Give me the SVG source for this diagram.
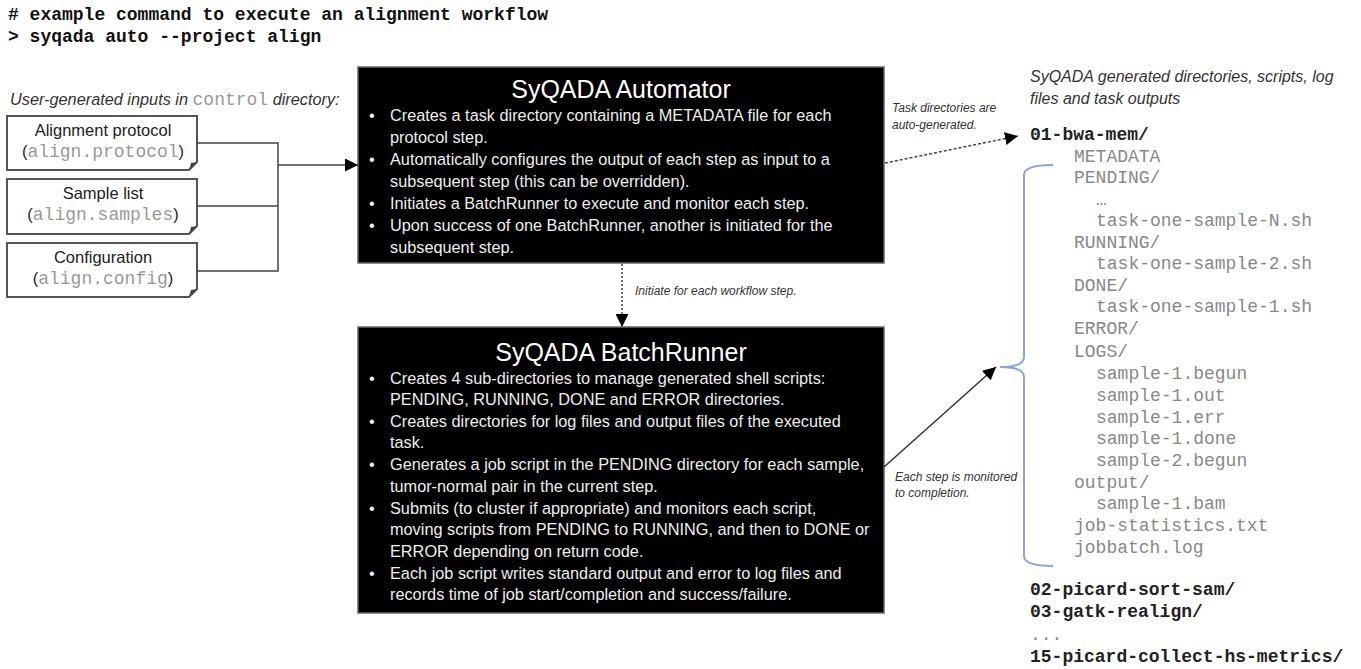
<svg xmlns="http://www.w3.org/2000/svg" width="1361" height="669" viewBox="0 0 1361 669">
<defs>
<marker id="ahL" viewBox="0 0 10 10" refX="10" refY="5" markerWidth="13" markerHeight="13" markerUnits="userSpaceOnUse" orient="auto"><path d="M0,0 L10,5 L0,10 Z" fill="#000"/></marker>
</defs>
<style>
.hdr{font-family:"Liberation Mono",monospace;font-weight:bold;font-size:18px;fill:#111}
.it{font-family:"Liberation Sans",Arial,sans-serif;font-style:italic;fill:#333}
.sm{font-size:12px}
.box{fill:#fff;stroke:#555;stroke-width:2}
.bt{font-family:"Liberation Sans",Arial,sans-serif;font-size:16.5px;fill:#222;text-anchor:middle}
.bm{font-family:"Liberation Mono",monospace;font-size:18px;fill:#999}
.blk{fill:#000;stroke:#666;stroke-width:1.5}
.ttl{font-family:"Liberation Sans",Arial,sans-serif;font-size:25px;fill:#fff;text-anchor:middle}
.wt{font-family:"Liberation Sans",Arial,sans-serif;font-size:16.3px;fill:#eee}
.g{font-family:"Liberation Mono",monospace;font-size:18px;fill:#888}
.b{font-family:"Liberation Mono",monospace;font-size:18px;font-weight:bold;fill:#222}
.ln{fill:none;stroke:#444;stroke-width:1.5}
</style>
<rect width="1361" height="669" fill="#fff"/>
<text class="hdr" x="8" y="20"># example command to execute an alignment workflow</text>
<text class="hdr" x="8" y="42">&gt; syqada auto --project align</text>

<text class="it" x="10" y="105" font-size="16.3">User-generated inputs in <tspan font-family="Liberation Mono" font-style="normal" fill="#999" font-size="18">control</tspan> directory:</text>

<g id="input-protocol">
<path class="box" d="M7,116 H197 V162 L189,170 H7 Z"/>
<path d="M189,170 L191,163 L197,162 Z" fill="#444"/>
<text class="bt" x="103" y="136">Alignment protocol</text>
<text class="bt" x="103" y="157">(<tspan class="bm">align.protocol</tspan>)</text>
</g>
<g id="input-samples">
<path class="box" d="M7,179 H197 V226 L189,234 H7 Z"/>
<path d="M189,234 L191,227 L197,226 Z" fill="#444"/>
<text class="bt" x="103" y="199">Sample list</text>
<text class="bt" x="103" y="220">(<tspan class="bm">align.samples</tspan>)</text>
</g>
<g id="input-config">
<path class="box" d="M7,243 H197 V289 L189,297 H7 Z"/>
<path d="M189,297 L191,290 L197,289 Z" fill="#444"/>
<text class="bt" x="103" y="263">Configuration</text>
<text class="bt" x="103" y="284">(<tspan class="bm">align.config</tspan>)</text>
</g>

<g id="automator">
<rect class="blk" x="358" y="67" width="526" height="196"/>
<text class="ttl" x="621" y="98">SyQADA Automator</text>
<g class="wt">
<text x="369" y="121">•</text><text x="390" y="121">Creates a task directory containing a METADATA file for each</text>
<text x="390" y="143">protocol step.</text>
<text x="369" y="165">•</text><text x="390" y="165">Automatically configures the output of each step as input to a</text>
<text x="390" y="187">subsequent step (this can be overridden).</text>
<text x="369" y="209">•</text><text x="390" y="209">Initiates a BatchRunner to execute and monitor each step.</text>
<text x="369" y="231">•</text><text x="390" y="231">Upon success of one BatchRunner, another is initiated for the</text>
<text x="390" y="253">subsequent step.</text>
</g>
</g>

<g id="batchrunner">
<rect class="blk" x="358" y="327" width="526" height="286"/>
<text class="ttl" x="621" y="361">SyQADA BatchRunner</text>
<g class="wt">
<text x="369" y="384">•</text><text x="390" y="384">Creates 4 sub-directories to manage generated shell scripts:</text>
<text x="390" y="405">PENDING, RUNNING, DONE and ERROR directories.</text>
<text x="369" y="427">•</text><text x="390" y="427">Creates directories for log files and output files of the executed</text>
<text x="390" y="448">task.</text>
<text x="369" y="470">•</text><text x="390" y="470">Generates a job script in the PENDING directory for each sample,</text>
<text x="390" y="492">tumor-normal pair in the current step.</text>
<text x="369" y="514">•</text><text x="390" y="514">Submits (to cluster if appropriate) and monitors each script,</text>
<text x="390" y="535">moving scripts from PENDING to RUNNING, and then to DONE or</text>
<text x="390" y="557">ERROR depending on return code.</text>
<text x="369" y="579">•</text><text x="390" y="579">Each job script writes standard output and error to log files and</text>
<text x="390" y="600">records time of job start/completion and success/failure.</text>
</g>
</g>

<g id="outputs">
<text class="it" x="1030" y="82" font-size="16">SyQADA generated directories, scripts, log</text>
<text class="it" x="1030" y="104" font-size="16">files and task outputs</text>
<text class="b" x="1030" y="140">01-bwa-mem/</text>
<g class="g">
<text x="1074" y="162">METADATA</text>
<text x="1074" y="183">PENDING/</text>
<text x="1096" y="205">…</text>
<text x="1096" y="226">task-one-sample-N.sh</text>
<text x="1074" y="248">RUNNING/</text>
<text x="1096" y="269">task-one-sample-2.sh</text>
<text x="1074" y="291">DONE/</text>
<text x="1096" y="312">task-one-sample-1.sh</text>
<text x="1074" y="334">ERROR/</text>
<text x="1074" y="357">LOGS/</text>
<text x="1096" y="379">sample-1.begun</text>
<text x="1096" y="401">sample-1.out</text>
<text x="1096" y="423">sample-1.err</text>
<text x="1096" y="444">sample-1.done</text>
<text x="1096" y="466">sample-2.begun</text>
<text x="1074" y="488">output/</text>
<text x="1096" y="509">sample-1.bam</text>
<text x="1074" y="531">job-statistics.txt</text>
<text x="1074" y="553">jobbatch.log</text>
</g>
<text class="b" x="1030" y="595">02-picard-sort-sam/</text>
<text class="b" x="1030" y="617">03-gatk-realign/</text>
<text class="g" x="1030" y="640">...</text>
<text class="b" x="1030" y="662">15-picard-collect-hs-metrics/</text>
<path d="M1053,165 Q1024,165 1024,175 V357 Q1024,367 1000,367 Q1024,367 1024,377 V556 Q1024,566 1053,566" fill="none" stroke="#8aa4dc" stroke-width="2"/>
</g>

<g id="connectors">
<path class="ln" d="M197,143 H278 V271 H197 M197,206 H278"/>
<path class="ln" d="M278,165 H358" marker-end="url(#ahL)"/>
<path d="M622,264 V327" fill="none" stroke="#444" stroke-width="1.5" stroke-dasharray="2,2" marker-end="url(#ahL)"/>
<path d="M885,163 L1018,136" fill="none" stroke="#444" stroke-width="1.5" stroke-dasharray="3,2" marker-end="url(#ahL)"/>
<path d="M884,467 L996,367" fill="none" stroke="#333" stroke-width="1.5" marker-end="url(#ahL)"/>
<text class="it sm" x="635" y="295">Initiate for each workflow step.</text>
<text class="it sm" x="892" y="112">Task directories are</text>
<text class="it sm" x="892" y="129">auto-generated.</text>
<text class="it sm" x="895" y="481">Each step is monitored</text>
<text class="it sm" x="895" y="497">to completion.</text>
</g>
</svg>
